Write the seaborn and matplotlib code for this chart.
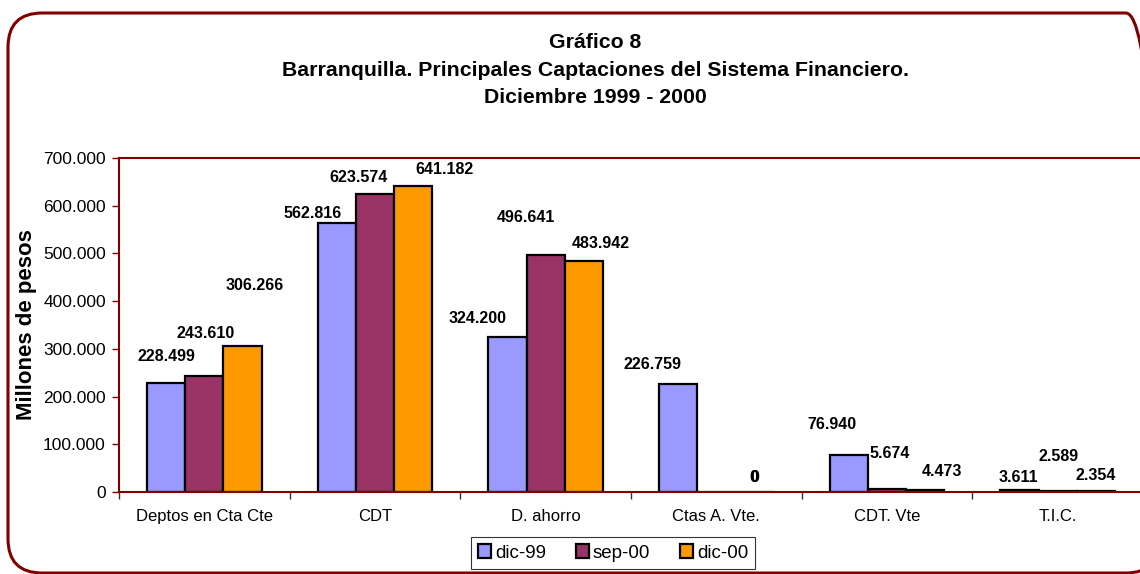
import pandas as pd
import matplotlib
matplotlib.use("Agg")
import matplotlib.pyplot as plt
from matplotlib.patches import FancyBboxPatch
from matplotlib.ticker import FuncFormatter
import seaborn as sns

sns.set_theme(style="white")
plt.rcParams['font.family'] = ['Liberation Sans', 'DejaVu Sans']
plt.rcParams['text.color'] = 'black'
plt.rcParams['xtick.color'] = 'black'
plt.rcParams['ytick.color'] = 'black'
plt.rcParams['axes.labelcolor'] = 'black'

## Data ##

categorias = ["Deptos en Cta Cte", "CDT", "D. ahorro", "Ctas A. Vte.", "CDT. Vte", "T.I.C."]
periodos = ["dic-99", "sep-00", "dic-00"]

dic_99 = [228499, 562816, 324200, 226759, 76940, 3611]
sep_00 = [243610, 623574, 496641, 0, 5674, 2589]
dic_00 = [306266, 641182, 483942, 0, 4473, 2354]

y_ticks = [0, 100000, 200000, 300000, 400000, 500000, 600000, 700000]

# label offsets (pixels, from top-centre of each bar), one list per series
off_dic_99 = [(0, 26), (-24, 10), (-30, 19), (-26, 19), (-17, 31), (-1, 13)]
off_sep_00 = [(1, 42), (-16, 17), (-20, 38), (37, 15), (3, 36), (1, 34)]
off_dic_00 = [(12, 60), (31, 17), (17, 18), (0, 15), (17, 18), (0, 15)]

colores = ["#9999FF", "#993366", "#FF9900"]
rojo = "#800000"

df = pd.DataFrame({
    "categoria": categorias * 3,
    "periodo": [p for p in periodos for _ in categorias],
    "valor": dic_99 + sep_00 + dic_00,
})

def miles(v, pos=None):
    return "{:,.0f}".format(v).replace(",", ".")

## Figure ##

fig = plt.figure(figsize=(11.4, 5.74), dpi=100)
W, H = 1140, 574
ax = fig.add_axes([119 / W, 1 - 492 / H, (1143 - 119) / W, (492 - 158) / H])

sns.barplot(data=df, x="categoria", y="valor", hue="periodo", order=categorias,
            hue_order=periodos, palette=colores, width=0.67, edgecolor="black",
            linewidth=1.6, saturation=1, ax=ax)

ax.set_xlim(-0.5, len(categorias) - 0.5)
ax.set_ylim(0, 700000)
ax.set_yticks(y_ticks)
ax.yaxis.set_major_formatter(FuncFormatter(miles))
ax.tick_params(axis="y", which="major", direction="out", length=5, width=1,
               color=rojo, labelsize=12.5, pad=4.5, left=True)
ax.set_xticks(range(len(categorias)))
ax.set_xticklabels(categorias, fontsize=12)
ax.tick_params(axis="x", which="major", length=0, pad=12)
ax.set_xticks([i - 0.5 for i in range(len(categorias) + 1)], minor=True)
ax.tick_params(axis="x", which="minor", direction="out", length=5, width=1,
               color="#333333", bottom=True)
ax.set_xlabel("")
ax.set_ylabel("Millones de pesos", fontsize=16, fontweight="bold", labelpad=4)
for s in ax.spines.values():
    s.set_color(rojo)
    s.set_linewidth(1.5)

# data labels
for cont, offs in zip(ax.containers, [off_dic_99, off_sep_00, off_dic_00]):
    for bar, (dx, dy) in zip(cont.patches, offs):
        v = bar.get_height()
        ax.annotate(miles(v), (bar.get_x() + bar.get_width() / 2, v),
                    xytext=(dx * 0.72, dy * 0.72), textcoords="offset points",
                    ha="center", va="center", fontsize=11.5, fontweight="bold",
                    annotation_clip=False)

# legend
ax.get_legend().remove()
handles = [plt.Rectangle((0, 0), 1, 1, facecolor=c, edgecolor="black", linewidth=1.6)
           for c in colores]
leg = fig.legend(handles, periodos, loc="center", bbox_to_anchor=(613 / W, 1 - 553 / H),
                 ncol=3, frameon=True, fancybox=False, fontsize=13.5, handlelength=0.7,
                 handleheight=0.7, handletextpad=0.2, columnspacing=1.6,
                 borderpad=0.38, borderaxespad=0)
leg.get_frame().set_edgecolor("black")
leg.get_frame().set_linewidth(0.8)

# title
for y, linea in zip([43, 70, 97], ["Gráfico 8",
                                    "Barranquilla. Principales Captaciones del Sistema Financiero.",
                                    "Diciembre 1999 - 2000"]):
    fig.text(595 / W, 1 - y / H, linea, ha="center", va="center",
             fontsize=15.3, fontweight="bold")

# rounded border
borde = FancyBboxPatch((8 / W, 1 - 573 / H), (1160 - 8) / W, (573 - 13) / H,
                       boxstyle="round,pad=0,rounding_size=0.03",
                       transform=fig.transFigure, facecolor="none",
                       edgecolor=rojo, linewidth=2.2, mutation_aspect=W / H)
fig.patches.append(borde)

plt.savefig("out.png", dpi=100)
